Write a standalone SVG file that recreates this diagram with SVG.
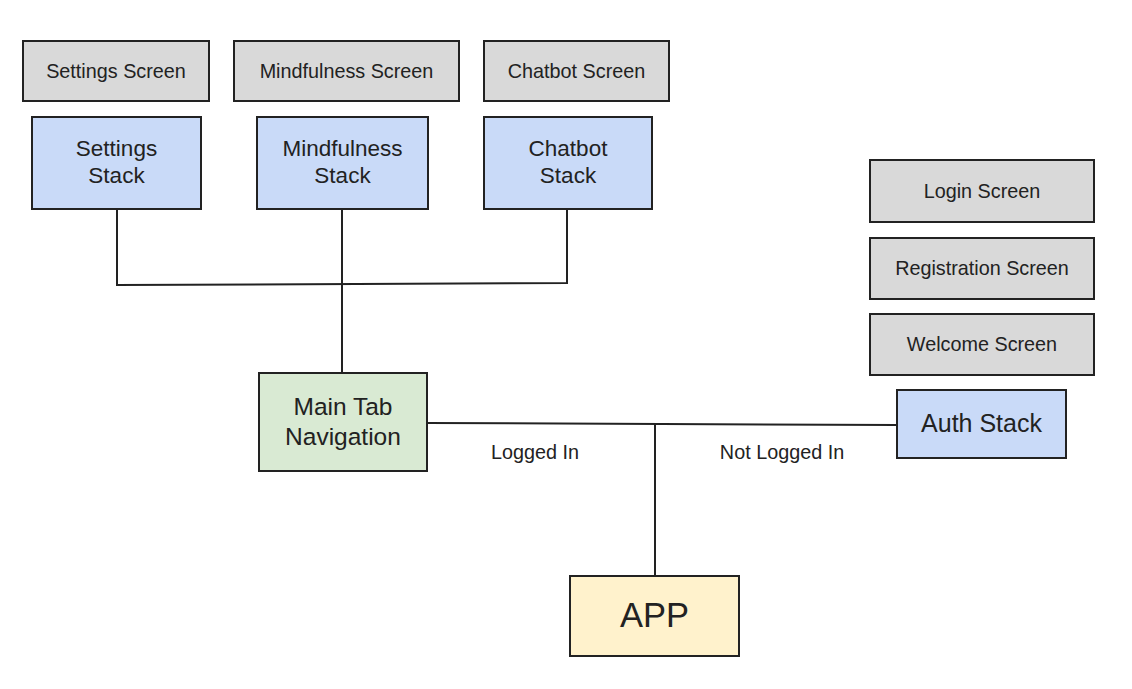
<svg xmlns="http://www.w3.org/2000/svg" width="1132" height="689" viewBox="0 0 1132 689">
<style>
.box{stroke:#222;stroke-width:2}
.scr{fill:#d9d9d9}
.stk{fill:#c9daf8}
.nav{fill:#d9ead3}
.app{fill:#fff2cc}
text{font-family:"Liberation Sans",Arial,sans-serif;fill:#222;text-anchor:middle}
.s{font-size:19.8px}
.k{font-size:22.5px}
.m{font-size:24.5px}
.a{font-size:25px}
.p{font-size:34.5px}
.l{font-size:19.8px}
.c{stroke:#222;stroke-width:2;fill:none}
</style>
<rect width="1132" height="689" fill="#fff"/>
<g id="connectors">
<polyline class="c" points="117,209 117,285 567,283 567,209"/>
<line class="c" x1="342" y1="209" x2="342" y2="373"/>
<line class="c" x1="427" y1="423" x2="897" y2="425"/>
<line class="c" x1="655" y1="424" x2="655" y2="576"/>
<text class="l" x="535" y="459">Logged In</text>
<text class="l" x="782" y="459">Not Logged In</text>
</g>
<g id="settings-screen"><rect class="box scr" x="23" y="41" width="186" height="60"/><text class="s" x="116" y="78">Settings Screen</text></g>
<g id="mindfulness-screen"><rect class="box scr" x="234" y="41" width="225" height="60"/><text class="s" x="346.5" y="78">Mindfulness Screen</text></g>
<g id="chatbot-screen"><rect class="box scr" x="484" y="41" width="185" height="60"/><text class="s" x="576.5" y="78">Chatbot Screen</text></g>
<g id="settings-stack"><rect class="box stk" x="32" y="117" width="169" height="92"/><text class="k" x="116.5" y="156">Settings</text><text class="k" x="116.5" y="183">Stack</text></g>
<g id="mindfulness-stack"><rect class="box stk" x="257" y="117" width="171" height="92"/><text class="k" x="342.5" y="156">Mindfulness</text><text class="k" x="342.5" y="183">Stack</text></g>
<g id="chatbot-stack"><rect class="box stk" x="484" y="117" width="168" height="92"/><text class="k" x="568" y="156">Chatbot</text><text class="k" x="568" y="183">Stack</text></g>
<g id="login-screen"><rect class="box scr" x="870" y="160" width="224" height="62"/><text class="s" x="982" y="198">Login Screen</text></g>
<g id="registration-screen"><rect class="box scr" x="870" y="238" width="224" height="61"/><text class="s" x="982" y="275">Registration Screen</text></g>
<g id="welcome-screen"><rect class="box scr" x="870" y="314" width="224" height="61"/><text class="s" x="982" y="351">Welcome Screen</text></g>
<g id="main-tab-navigation"><rect class="box nav" x="259" y="373" width="168" height="98"/><text class="m" x="343" y="415">Main Tab</text><text class="m" x="343" y="445">Navigation</text></g>
<g id="auth-stack"><rect class="box stk" x="897" y="390" width="169" height="68"/><text class="a" x="981.5" y="432">Auth Stack</text></g>
<g id="app"><rect class="box app" x="570" y="576" width="169" height="80"/><text class="p" x="654.5" y="627">APP</text></g>
</svg>
